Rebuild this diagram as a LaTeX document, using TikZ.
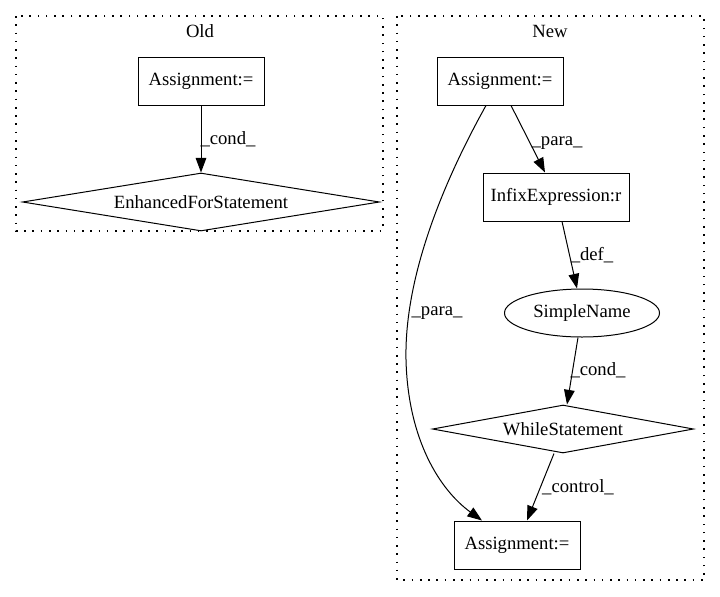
\documentclass[tikz,border=0pt]{standalone}
\usepackage{fontspec}
\setmainfont{Liberation Serif}
\usetikzlibrary{shapes.geometric,arrows.meta}
\begin{document}
\begin{tikzpicture}[x=0.75pt,y=-0.75pt,
  every node/.style={font=\fontsize{14pt}{16pt}\selectfont},
  box/.style={draw,line width=0.75pt,rectangle,inner sep=0pt,minimum width=94.5pt,minimum height=36pt},
  dia/.style={draw,line width=0.75pt,diamond,inner sep=0pt,aspect=6},
  ell/.style={draw,line width=0.75pt,ellipse,inner sep=0pt},
  cluster/.style={draw,line width=0.9pt,dash pattern=on 1.2pt off 5pt},
  edge/.style={draw,line width=0.75pt,-{Triangle[length=11pt,width=8pt]}},
  lbl/.style={inner sep=0pt}]
\useasboundingbox (0,0) rectangle (720,596);
% clusters
\draw[cluster] (16,16) rectangle (383,231);
\node[lbl] (oldlbl) at (200,31) {Old};
\draw[cluster] (397,16) rectangle (704,580);
\node[lbl] (newlbl) at (550,31) {New};
% old nodes
\node[box] (oa) at (201,81) {Assignment:=};
\node[dia,minimum width=267.75pt,minimum height=43.5pt] (ef) at (201,202) {EnhancedForStatement};
% new nodes
\node[box] (na) at (500,81) {Assignment:=};
\node[box,minimum width=109.5pt] (ix) at (556,197) {InfixExpression:r};
\node[ell,minimum width=116.25pt,minimum height=36pt] (sn) at (582,313) {SimpleName};
\node[dia,minimum width=195.75pt,minimum height=36pt] (ws) at (563,429) {WhileStatement};
\node[box] (ba) at (517,545) {Assignment:=};
% edges
\draw[edge] (oa.south) -- (ef.north);
\node[lbl] (l1) at (228,139) {\_cond\_};
\draw[edge] ([xshift=8.25pt]na.south) -- ([xshift=-8.25pt]ix.north);
\node[lbl] (l2) at (557,143) {\_para\_};
\draw[edge] ([xshift=4.5pt]ix.south) -- ([xshift=-3.75pt]sn.south |- sn.north);
\node[lbl] (l3) at (592,255) {\_def\_};
\draw[edge] ([xshift=-3pt]sn.south) -- ([xshift=3pt]ws.north);
\node[lbl] (l4) at (598,370) {\_cond\_};
\draw[edge] ([xshift=-6.75pt]ws.south) -- ([xshift=7.5pt]ba.north);
\node[lbl] (l5) at (578,487) {\_control\_};
\draw[edge] ([xshift=-10.5pt]na.south) .. controls (450,170) and (404,270) .. (406,360)
  .. controls (408,440) and (440,490) .. ([xshift=-26.25pt]ba.north);
\node[lbl] (l6) at (437,313) {\_para\_};
\end{tikzpicture}
\end{document}
